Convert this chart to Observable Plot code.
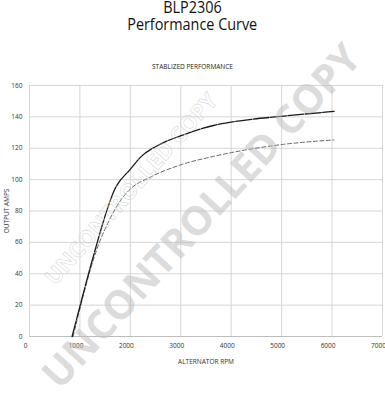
<!DOCTYPE html>
<html>
<head>
<meta charset="utf-8">
<script src="https://cdn.jsdelivr.net/npm/d3@7"></script>
<script src="https://cdn.jsdelivr.net/npm/@observablehq/plot@0.6"></script>
<style>
  html, body { margin: 0; padding: 0; background: #fff; }
  body { width: 385px; height: 400px; position: relative; overflow: hidden; font-family: "Open Sans", sans-serif; }
  .t { position: absolute; left: 0; width: 385px; text-align: center; color: #111; white-space: nowrap; }
  .t span { display: inline-block; transform: scaleX(0.9); }
  #chart { position: absolute; left: 0; top: 75px; }
  .wm { position: absolute; white-space: nowrap; pointer-events: none; font-family: "Open Sans", sans-serif; font-weight: 700; }
</style>
</head>
<body>
<div class="t" style="top:0px;font-size:16px;line-height:15px;height:15px;"><span>BLP2306</span></div>
<div class="t" style="top:17px;font-size:16px;line-height:15px;height:15px;"><span>Performance Curve</span></div>
<div class="t" style="top:62px;font-size:6.5px;line-height:10px;color:#222;">STABLIZED PERFORMANCE</div>
<div id="chart"></div>
<div class="wm" id="wm1" style="left:200px;top:215px;font-size:40px;color:rgba(190,190,190,0.55);transform:translate(-50%,-50%) rotate(-47.5deg);">UNCONTROLLED COPY</div>
<div class="wm" id="wm2" style="left:130px;top:188px;font-size:22px;color:transparent;-webkit-text-stroke:0.6px rgba(200,200,200,0.7);transform:translate(-50%,-50%) rotate(-48.5deg);">UNCONTROLLED COPY</div>
<script>
// Data
const rpmSolid  = [845, 1300, 1481, 1679, 2010, 2192, 2589, 3006, 3647, 4177, 5040, 6040];
const ampsSolid = [0,   55,   75,   93,   107,  114,  122.5, 128, 134.5, 137.5, 140.5, 143.5];
const rpmDashed  = [865, 1340, 1580, 1812, 2000, 2391, 3006, 3647, 4177, 5040, 6040];
const ampsDashed = [0,   56,   74,   87,   94,   101.5, 109.5, 114.8, 118.3, 122.5, 125.3];
const xTicks = [0, 1000, 2000, 3000, 4000, 5000, 6000, 7000];
const yTicks = [0, 20, 40, 60, 80, 100, 120, 140, 160];

const solid = rpmSolid.map((r, i) => ({rpm: r, amps: ampsSolid[i]}));
const dashed = rpmDashed.map((r, i) => ({rpm: r, amps: ampsDashed[i]}));

const chart = Plot.plot({
  width: 385,
  height: 325,
  marginLeft: 29,
  marginRight: 3,
  marginTop: 10,
  marginBottom: 64,
  style: {fontFamily: "Open Sans, sans-serif", fontSize: "6.5px", color: "#333", background: "#fff"},
  x: {domain: [0, 7000], ticks: xTicks},
  y: {domain: [0, 160], ticks: yTicks},
  marks: [
    Plot.gridX(xTicks, {stroke: "#d6d6d6", strokeOpacity: 1, strokeWidth: 1}),
    Plot.gridY(yTicks, {stroke: "#d6d6d6", strokeOpacity: 1, strokeWidth: 1}),
    Plot.ruleY([0], {stroke: "#bdbdbd"}),
    Plot.axisX(xTicks, {tickSize: 0, tickPadding: 7, dx: -4, label: "ALTERNATOR RPM", labelAnchor: "center", labelArrow: "none", labelOffset: 27, tickFormat: d => String(d)}),
    Plot.axisY(yTicks, {tickSize: 0, tickPadding: 7, label: "OUTPUT AMPS", labelAnchor: "center", labelArrow: "none", labelOffset: 25}),
    Plot.line(dashed, {x: "rpm", y: "amps", stroke: "#666", strokeWidth: 1, strokeDasharray: "4,2.5", curve: "monotone-x"}),
    Plot.line(solid, {x: "rpm", y: "amps", stroke: "#1a1a1a", strokeWidth: 1.3, strokeDasharray: "16,1.5", curve: "monotone-x"})
  ]
});
document.getElementById("chart").appendChild(chart);
</script>
</body>
</html>
